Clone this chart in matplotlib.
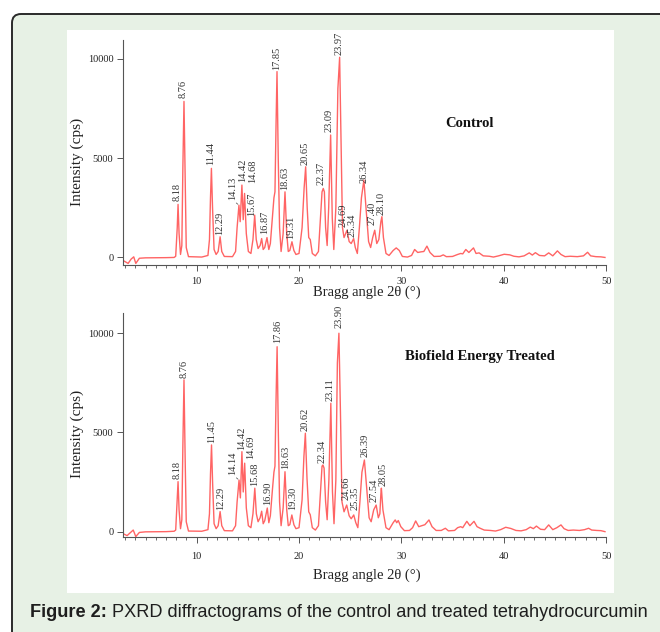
import matplotlib
matplotlib.use("Agg")
import matplotlib.pyplot as plt
import numpy as np
from matplotlib.patches import FancyBboxPatch, Rectangle
from matplotlib.ticker import MultipleLocator, FixedLocator
from matplotlib import font_manager

# ---------------- data ----------------
ctrl_2theta = [2.8, 3.3, 3.6, 3.85, 4.05, 4.4, 5.0, 7.0, 7.8,
               7.95, 8.1, 8.18, 8.28, 8.42,
               8.55, 8.65, 8.76, 8.87, 8.98, 9.2,
               10.5, 11.1, 11.25, 11.35, 11.44, 11.55, 11.7, 11.9,
               12.1, 12.29, 12.45, 12.7, 13.5, 13.8,
               13.95, 14.13, 14.25, 14.42, 14.55, 14.68, 14.85, 15.05, 15.3,
               15.5, 15.67, 15.82, 16.0, 16.2, 16.35, 16.5, 16.65, 16.87, 17.05, 17.2,
               17.4, 17.55, 17.65, 17.75, 17.85, 17.97, 18.1, 18.25,
               18.45, 18.63, 18.8, 18.95, 19.1, 19.31, 19.5, 19.7, 20.0, 20.3,
               20.5, 20.65, 20.8, 20.95, 21.1, 21.3, 21.6, 21.9,
               22.1, 22.25, 22.37, 22.48, 22.6, 22.75,
               22.9, 23.09, 23.25, 23.4,
               23.6, 23.8, 23.97, 24.1, 24.25, 24.4,
               24.69, 24.9, 25.1, 25.34, 25.5, 25.7, 25.9,
               26.1, 26.34, 26.55, 26.8, 27.0,
               27.2, 27.4, 27.6, 27.8, 28.0, 28.1, 28.25, 28.5, 28.8,
               29.2, 29.5, 29.8, 30.1, 30.6, 31.0, 31.3, 31.6, 31.9, 32.2, 32.5,
               32.8, 33.2, 33.8, 34.1, 34.4, 35.0, 35.5, 35.8, 36.0, 36.3, 36.6,
               37.05, 37.3, 37.6, 38.0, 38.6, 39.0, 39.5, 40.05, 40.6, 41.0, 41.5,
               42.0, 42.5, 42.8, 43.1, 43.5, 44.0, 44.4, 44.8, 45.25, 45.6, 46.0,
               46.5, 47.2, 47.8, 48.2, 48.5, 49.0, 49.5, 49.9]
ctrl_counts = [-150, -300, -80, 30, -300, -40, -20, -10, 0,
               60, 1500, 2670, 1200, 150,
               600, 4500, 7850, 4000, 500, 40,
               20, 100, 900, 3000, 4480, 2500, 400, 150,
               300, 1040, 300, 50, 40, 300,
               1500, 2630, 1800, 3640, 1900, 3220, 1200, 300, 200,
               900, 2130, 900, 450, 600, 950, 400, 500, 1000, 400, 700,
               2000, 3000, 3300, 6500, 9350, 5000, 1500, 300,
               1200, 3300, 1200, 300, 350, 790, 350, 150, 200, 1500,
               3500, 4560, 2500, 1000, 900, 200, 80, 300,
               2000, 3300, 3470, 3300, 1500, 600,
               2500, 6160, 2000, 400,
               2500, 8500, 10070, 6000, 1500, 1000,
               1370, 800, 700, 950, 500, 200, 1500,
               3000, 3890, 2500, 800, 500,
               1000, 1370, 700, 900, 1800, 2050, 1000, 200, 100,
               350, 480, 350, 50, 20, 100, 400, 250, 280, 300, 570,
               250, 50, 60, 130, 40, 50, 150, 200, 180, 400, 250,
               480, 200, 230, 80, 60, 20, 80, 160, 130, 60, 30,
               80, 230, 120, 240, 100, 80, 230, 80, 330, 150, 40,
               60, 40, 80, 260, 80, 40, 30, 0]

treat_2theta = [2.8, 3.2, 3.5, 3.8, 4.05, 4.4, 5.0, 7.0, 7.8,
                7.95, 8.08, 8.18, 8.28, 8.42,
                8.55, 8.65, 8.76, 8.87, 8.98, 9.2,
                10.5, 11.1, 11.25, 11.35, 11.45, 11.56, 11.7, 11.9,
                12.1, 12.29, 12.45, 12.7, 13.5, 13.8,
                13.95, 14.14, 14.27, 14.42, 14.55, 14.69, 14.85, 15.05, 15.3,
                15.5, 15.68, 15.83, 16.0, 16.2, 16.35, 16.5, 16.65, 16.9, 17.05, 17.2,
                17.4, 17.55, 17.65, 17.75, 17.86, 17.98, 18.1, 18.25,
                18.45, 18.63, 18.8, 18.95, 19.1, 19.3, 19.5, 19.7, 20.0, 20.3,
                20.48, 20.62, 20.78, 20.95, 21.1, 21.3, 21.6, 21.9,
                22.1, 22.25, 22.34, 22.45, 22.6, 22.75,
                22.92, 23.11, 23.27, 23.42,
                23.6, 23.75, 23.9, 24.05, 24.2, 24.4,
                24.66, 24.9, 25.1, 25.35, 25.55, 25.75, 25.95,
                26.15, 26.39, 26.6, 26.85, 27.05,
                27.3, 27.54, 27.75, 27.9, 28.0, 28.05, 28.2, 28.5, 28.8,
                29.2, 29.4, 29.55, 29.7, 29.95, 30.3, 30.8, 31.1, 31.4, 31.7, 32.0,
                32.3, 32.7, 33.0, 33.4, 33.9, 34.3, 34.6, 35.2, 35.5, 35.8, 36.0,
                36.4, 36.7, 37.1, 37.4, 37.7, 38.1, 38.7, 39.2, 39.7, 40.2, 40.7,
                41.2, 41.7, 42.2, 42.6, 42.9, 43.2, 43.6, 44.0, 44.4, 44.8, 45.2,
                45.6, 45.9, 46.3, 46.8, 47.4, 47.9, 48.3, 48.6, 49.1, 49.5, 49.9]
treat_counts = [-100, -200, -60, 80, -250, -40, -10, 0, 20,
                80, 1400, 2520, 1100, 150,
                600, 4300, 7650, 3800, 500, 30,
                20, 100, 900, 2900, 4370, 2400, 400, 150,
                300, 1010, 300, 50, 40, 300,
                1500, 2600, 1700, 4030, 2000, 3450, 1200, 300, 200,
                900, 2190, 900, 500, 700, 1030, 400, 550, 1190, 450, 800,
                2100, 3000, 3300, 6500, 9320, 5000, 1500, 300,
                1200, 3020, 1100, 300, 350, 840, 350, 150, 200, 1600,
                3800, 4960, 2700, 1000, 850, 200, 80, 300,
                2000, 3300, 3360, 3200, 1500, 600,
                2600, 6470, 2000, 400,
                2600, 8500, 10000, 6000, 1500, 1000,
                1340, 800, 650, 840, 450, 200, 1500,
                3000, 3610, 2300, 700, 500,
                1100, 1340, 700, 900, 1900, 2190, 1100, 200, 100,
                450, 590, 450, 560, 250, 50, 60, 200, 540, 250, 300,
                350, 590, 250, 60, 60, 170, 40, 60, 200, 250, 200,
                520, 300, 520, 250, 170, 80, 60, 30, 100, 220, 160,
                60, 40, 100, 230, 150, 280, 120, 100, 340, 100, 200,
                340, 150, 60, 80, 60, 100, 170, 80, 60, 50, 0]

ctrl_peak_labels = ["8.18", "8.76", "11.44", "12.29", "14.13", "14.42", "14.68",
                    "15.67", "16.87", "17.85", "18.63", "19.31", "20.65", "22.37",
                    "23.09", "23.97", "24.69", "25.34", "26.34", "27.40", "28.10"]
treat_peak_labels = ["8.18", "8.76", "11.45", "12.29", "14.14", "14.42", "14.69",
                     "15.68", "16.90", "17.86", "18.63", "19.30", "20.62", "22.34",
                     "23.11", "23.90", "24.66", "25.35", "26.39", "27.54", "28.05"]

y_ticks = [0, 5000, 10000]
x_ticks = [10, 20, 30, 40, 50]
panel_names = ["Control", "Biofield Energy Treated"]
x_label = "Bragg angle 2θ (°)"
y_label = "Intensity (cps)"
caption_bold = "Figure 2:"
caption_rest = " PXRD diffractograms of the control and treated tetrahydrocurcumin"

# ---------------- layout / style ----------------
W, H = 660, 632
LINE = "#ff6464"
SERIF = "Liberation Serif"
avail = {f.name for f in font_manager.fontManager.ttflist}
CAP_FONT = "Liberation Sans Narrow" if "Liberation Sans Narrow" in avail else "Liberation Sans"
CAP_SIZE = 15.5 if CAP_FONT == "Liberation Sans Narrow" else 13.1

# label offsets in pixels (dx, dy); the label at leader_idx gets a leader line
ctrl_offsets = [(-1, 3), (-1, 3), (-1, 3), (-0.5, 2), (-6, 5), (0.5, 3), (8, 10),
                (-3, -1), (-2, 4), (0, 2), (0, 2), (-1, 3), (-1, 2), (-2, 3),
                (-2, 3), (-1, 2), (-4, 3), (-2, 2), (0, -3), (-2.5, 5), (-0.5, 2)]
treat_offsets = [(-0.5, 3), (0, 2), (0, 2), (0.5, 2), (-6, 5), (-0.5, 2), (6, 4),
                 (0, 2), (0, 3), (0.5, 4), (0.5, 3), (1, 5), (0, 2), (-1, 2),
                 (-0.5, 2), (0, 5), (-1, 5), (1, 5), (1, 3), (-2.5, 3), (1.5, 2)]
leader_idx = 4

fig = plt.figure(figsize=(W / 100, H / 100), dpi=100)
fig.patch.set_facecolor("white")

bg = fig.add_axes([0, 0, 1, 1], zorder=-10)
bg.set_xlim(0, W)
bg.set_ylim(H, 0)
bg.axis("off")
bg.add_patch(FancyBboxPatch((12, 14), 720, 700, boxstyle="round,pad=0,rounding_size=9",
                            fc="#e7f1e5", ec="#2a2a2a", lw=1.4))
bg.add_patch(Rectangle((67, 30), 547, 563, fc="white", ec="none"))

t1 = bg.text(30, 617, caption_bold, fontsize=CAP_SIZE, fontweight="bold",
             family=CAP_FONT, color="#1e1e1e", va="baseline", ha="left")
bg.annotate(caption_rest, xy=(1, 0), xycoords=t1, va="bottom", ha="left",
            fontsize=CAP_SIZE, family=CAP_FONT, color="#1e1e1e")


def px_axes(l, t, r, b):
    return fig.add_axes([l / W, 1 - b / H, (r - l) / W, (b - t) / H])


panels = [
    dict(box=(123, 40, 606, 265), ylim=(-380, 10940), x=ctrl_2theta, y=ctrl_counts,
         labels=ctrl_peak_labels, offs=ctrl_offsets, name_pos=(0.718, 0.627),
         xlab_y=-0.12, tickpad=4.7),
    dict(box=(123, 313, 606, 537), ylim=(-270, 11020), x=treat_2theta, y=treat_counts,
         labels=treat_peak_labels, offs=treat_offsets, name_pos=(0.739, 0.804),
         xlab_y=-0.17, tickpad=6.8),
]

for i, p in enumerate(panels):
    ax = px_axes(*p["box"])
    ax.set_facecolor("none")
    ax.plot(p["x"], p["y"], color=LINE, lw=1.0, solid_joinstyle="round")
    ax.set_xlim(2.8, 50)
    ax.set_ylim(*p["ylim"])
    for s in ("top", "right"):
        ax.spines[s].set_visible(False)
    for s in ("left", "bottom"):
        ax.spines[s].set_color("#555555")
        ax.spines[s].set_linewidth(0.8)
    ax.xaxis.set_major_locator(FixedLocator(x_ticks))
    ax.xaxis.set_minor_locator(MultipleLocator(1))
    ax.yaxis.set_major_locator(FixedLocator(y_ticks))
    ax.tick_params(axis="both", which="major", direction="out", length=4, width=0.7,
                   color="#555555", labelsize=7.5, labelcolor="#222222")
    ax.tick_params(axis="x", which="major", pad=p["tickpad"])
    ax.tick_params(axis="y", which="major", pad=3)
    ax.tick_params(axis="x", which="minor", direction="out", length=2.5, width=0.6,
                   color="#555555")
    for lab in ax.get_xticklabels() + ax.get_yticklabels():
        lab.set_family(SERIF)
    ax.text(-0.095, 0.46, y_label, transform=ax.transAxes, rotation=90, ha="center",
            va="center", fontsize=11, family=SERIF, color="#222222")
    ax.text(0.505, p["xlab_y"], x_label, transform=ax.transAxes, ha="center",
            va="center", fontsize=10.5, family=SERIF, color="#222222")
    ax.text(p["name_pos"][0], p["name_pos"][1], panel_names[i], transform=ax.transAxes,
            ha="center", va="center", fontsize=10.5, fontweight="bold", family=SERIF,
            color="#111111")
    xs = np.asarray(p["x"], float)
    ys = np.asarray(p["y"], float)
    for j, lab in enumerate(p["labels"]):
        pos = float(lab)
        h = float(np.interp(pos, xs, ys))
        dx, dy = p["offs"][j]
        kw = {}
        if j == leader_idx:
            kw["arrowprops"] = dict(arrowstyle="-", lw=0.5, color="#444444",
                                    shrinkA=0, shrinkB=1, relpos=(0.5, 0))
        ax.annotate(lab, xy=(pos, h), xytext=(dx, dy), textcoords="offset pixels",
                    rotation=90, ha="center", va="bottom", fontsize=7.5,
                    family=SERIF, color="#333333", annotation_clip=False, **kw)

fig.savefig("out.png", dpi=100)
